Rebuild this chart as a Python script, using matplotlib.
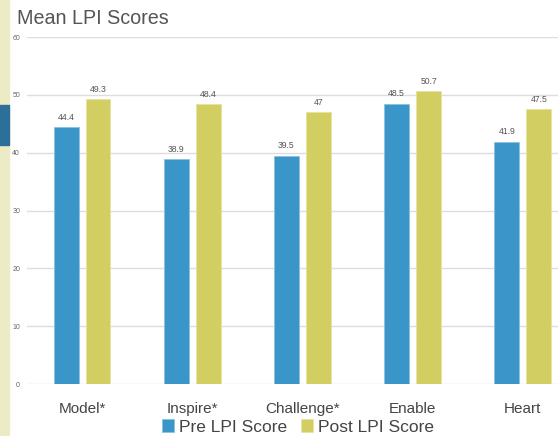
import matplotlib
matplotlib.use("Agg")
import matplotlib.pyplot as plt
from matplotlib.patches import Rectangle
import numpy as np

plt.rcParams['font.family'] = ['Liberation Sans', 'DejaVu Sans']

categories = ['Model*', 'Inspire*', 'Challenge*', 'Enable', 'Heart']
pre_scores = [44.4, 38.9, 39.5, 48.5, 41.9]
post_scores = [49.3, 48.4, 47, 50.7, 47.5]
pre_labels = ['44.4', '38.9', '39.5', '48.5', '41.9']
post_labels = ['49.3', '48.4', '47', '50.7', '47.5']

blue = '#3A95C8'
gold = '#D3CE62'

fig = plt.figure(figsize=(5.58, 4.36), dpi=100)
ax = fig.add_axes([27/558, 1-384/436, 1-27/558, (384-37)/436])

x = np.arange(len(categories))
w = 0.225
off = 0.145
b1 = ax.bar(x - off, pre_scores, w, color=blue, edgecolor='#8cc3e0', linewidth=0.6,
            label='Pre LPI Score', zorder=3)
b2 = ax.bar(x + off, post_scores, w, color=gold, edgecolor='#e6e2a0', linewidth=0.6,
            label='Post LPI Score', zorder=3)

for rect, lab in zip(b1, pre_labels):
    ax.text(rect.get_x() + rect.get_width()/2, rect.get_height() + 0.9, lab,
            ha='center', va='bottom', fontsize=6.2, color='#555555')
for rect, lab in zip(b2, post_labels):
    ax.text(rect.get_x() + rect.get_width()/2, rect.get_height() + 0.9, lab,
            ha='center', va='bottom', fontsize=6.2, color='#555555')

ax.set_ylim(0, 60)
ax.set_xlim(-0.5, 4.32)
ax.set_yticks(range(0, 61, 10))
ax.set_xticks(x)
ax.set_xticklabels(categories, fontsize=11, color='#444444')
ax.tick_params(axis='y', labelsize=5, colors='#666666', length=0, pad=5)
ax.tick_params(axis='x', length=0, pad=13)
ax.yaxis.grid(True, color='#dddddd', linewidth=1, zorder=0)
ax.set_axisbelow(True)
for s in ax.spines.values():
    s.set_visible(False)

leg = fig.legend(handles=[b1, b2], loc='center', bbox_to_anchor=(298/558, 1-427/436),
                 ncol=2, frameon=False, fontsize=12.5, handlelength=0.7, handleheight=0.7,
                 handletextpad=0.3, columnspacing=0.8, labelcolor='#444444')

fig.text(17/558, 1-19/436, 'Mean LPI Scores', fontsize=14.2, color='#555555',
         ha='left', va='center')

# left decoration strip
fig.patches.append(Rectangle((0, 0), 9/558, 1, transform=fig.transFigure,
                             color='#EDEAC6', zorder=0))
fig.patches.append(Rectangle((0, 1-145/436), 9/558, 40/436, transform=fig.transFigure,
                             color='#2A7099', zorder=1))

fig.savefig('out.png', dpi=100)
